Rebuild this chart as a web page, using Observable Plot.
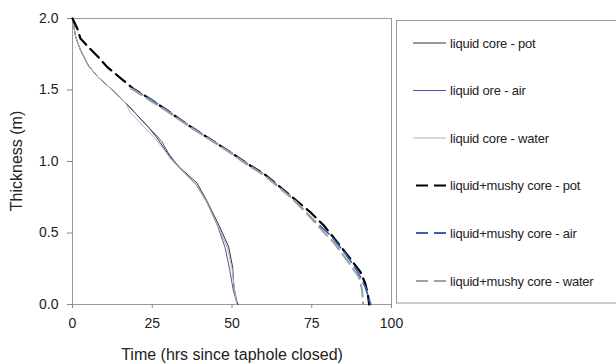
<!DOCTYPE html>
<html>
<head>
<meta charset="utf-8">
<script src="https://cdn.jsdelivr.net/npm/d3@7"></script>
<script src="https://cdn.jsdelivr.net/npm/@observablehq/plot@0.6"></script>
<style>
  html, body { margin: 0; padding: 0; background: #fff; }
  #chart { position: relative; width: 616px; height: 364px; }
</style>
</head>
<body>
<div id="chart"></div>
<script>
// ---- data (time in hrs, thickness in m) ----
const xTicks = [0, 25, 50, 75, 100];
const yTicks = [0, 0.5, 1.0, 1.5, 2.0];

const liquidPotT = [0, 1, 2.5, 5, 8, 12.5, 16.5, 20, 24, 26.5, 28.5, 31, 34, 36.5, 39, 42, 46, 49, 50.2, 50.6, 51.7];
const liquidPotH = [2.0, 1.87, 1.78, 1.67, 1.59, 1.50, 1.415, 1.33, 1.235, 1.165, 1.10, 1.02, 0.95, 0.90, 0.85, 0.73, 0.55, 0.40, 0.26, 0.12, 0.0];

const liquidAirT = [0, 1, 2.5, 5, 8, 12.5, 16.5, 20, 24, 26, 28, 30, 33.5, 36.5, 39, 42, 45.5, 47.8, 49.3, 50.4, 51.3, 52];
const liquidAirH = [2.0, 1.87, 1.78, 1.67, 1.59, 1.50, 1.415, 1.33, 1.235, 1.19, 1.14, 1.06, 0.955, 0.89, 0.83, 0.72, 0.55, 0.40, 0.24, 0.10, 0.03, 0.0];

const liquidWaterT = [0, 1, 2.5, 5, 8, 12.5, 16.5, 18.2, 20, 22.9, 25.5, 28.5, 31, 34, 36.5, 39, 42, 46, 48.5, 50, 50.8, 51.5];
const liquidWaterH = [2.0, 1.87, 1.78, 1.67, 1.59, 1.50, 1.415, 1.34, 1.30, 1.23, 1.17, 1.09, 1.01, 0.945, 0.89, 0.83, 0.72, 0.53, 0.40, 0.25, 0.10, 0.0];

const mushyPotT = [0, 1.5, 2.5, 5, 7.7, 10.9, 16, 19.1, 23.4, 29.7, 35.9, 42.2, 49.5, 54.8, 60, 65.2, 68.3, 74.6, 78.8, 83, 87.1, 90.3, 91.8, 92.6, 93];
const mushyPotH = [2.0, 1.93, 1.86, 1.80, 1.74, 1.66, 1.566, 1.508, 1.45, 1.357, 1.26, 1.17, 1.065, 0.984, 0.914, 0.82, 0.762, 0.645, 0.552, 0.436, 0.32, 0.226, 0.145, 0.07, 0.0];

const mushyAirT = [18.5, 23.4, 29.7, 35.9, 42.2, 49.5, 54.8, 60, 65.2, 68.3, 75.6, 80.9, 85.6, 89.2, 91.8, 93.5];
const mushyAirH = [1.51, 1.45, 1.357, 1.26, 1.17, 1.065, 0.984, 0.91, 0.815, 0.755, 0.59, 0.483, 0.354, 0.238, 0.121, 0.0];

const mushyWaterT = [18.5, 23.4, 29.7, 35.9, 42.2, 49.5, 54.8, 60, 65.2, 70, 74.6, 78.7, 81.8, 86.1, 89.8, 90.8, 91.1];
const mushyWaterH = [1.51, 1.44, 1.35, 1.255, 1.165, 1.06, 0.978, 0.905, 0.81, 0.72, 0.61, 0.506, 0.436, 0.308, 0.191, 0.098, 0.0];

const seriesNames = [
  "liquid core - pot",
  "liquid ore - air",
  "liquid core - water",
  "liquid+mushy core - pot",
  "liquid+mushy core - air",
  "liquid+mushy core - water"
];

// ---- styles ----
const styles = [
  {stroke: "#333333", width: 1, dash: null},
  {stroke: "#4a55a8", width: 1, dash: null},
  {stroke: "#b4b4b4", width: 1, dash: null},
  {stroke: "#000000", width: 2.2, dash: "12,6"},
  {stroke: "#3a5fb8", width: 1.8, dash: "12,6"},
  {stroke: "#a0a0a0", width: 2, dash: "12,6"}
];

const rawSeries = [
  [liquidPotT, liquidPotH],
  [liquidAirT, liquidAirH],
  [liquidWaterT, liquidWaterH],
  [mushyPotT, mushyPotH],
  [mushyAirT, mushyAirH],
  [mushyWaterT, mushyWaterH]
];
const tables = rawSeries.map(([ts, hs], i) => ts.map((t, j) => ({t, h: hs[j], s: seriesNames[i]})));

const font = "'Liberation Sans', Arial, sans-serif";

const chart = Plot.plot({
  width: 616,
  height: 364,
  marginLeft: 72,
  marginRight: 225,
  marginTop: 18,
  marginBottom: 60,
  style: {fontFamily: font, fontSize: "14px", color: "#222", background: "#fff"},
  x: {domain: [0, 100]},
  y: {domain: [0, 2]},
  marks: [
    Plot.frame({stroke: "#999"}),
    Plot.axisX({ticks: xTicks, tickSize: 4, tickPadding: 10, label: null, stroke: "#888", fontSize: 14}),
    Plot.axisY({ticks: yTicks, tickSize: 5, tickPadding: 9, label: null, stroke: "#888", tickFormat: d3.format(".1f"), fontSize: 14}),
    ...tables.map((data, i) => Plot.line(data, {
      x: "t", y: "h",
      stroke: styles[i].stroke,
      strokeWidth: styles[i].width,
      strokeDasharray: styles[i].dash,
      strokeLinejoin: "round"
    }))
  ]
});

document.getElementById("chart").appendChild(chart);

// axis titles and legend
const svg = d3.select(chart);
svg.append("text")
  .attr("x", 232).attr("y", 360)
  .attr("text-anchor", "middle")
  .attr("font-family", font).attr("font-size", 16).attr("fill", "#222")
  .text("Time (hrs since taphole closed)");
svg.append("text")
  .attr("transform", "translate(22,161) rotate(-90)")
  .attr("text-anchor", "middle")
  .attr("font-family", font).attr("font-size", 16).attr("fill", "#222")
  .text("Thickness (m)");

const lg = svg.append("g").attr("text-anchor", "start");
lg.append("rect")
  .attr("x", 396.5).attr("y", 20.5).attr("width", 230).attr("height", 282.5)
  .attr("fill", "none").attr("stroke", "#999");
const rowY = [43, 90.5, 138, 185.5, 233, 281];
seriesNames.forEach((name, i) => {
  lg.append("line")
    .attr("x1", styles[i].dash ? 416 : 413).attr("x2", styles[i].dash ? 447 : 446)
    .attr("y1", rowY[i]).attr("y2", rowY[i])
    .attr("stroke", styles[i].stroke)
    .attr("stroke-width", styles[i].width)
    .attr("stroke-dasharray", styles[i].dash);
  lg.append("text")
    .attr("x", 450).attr("y", rowY[i]).attr("dy", "0.35em")
    .attr("text-anchor", "start")
    .attr("font-family", font).attr("font-size", 13).attr("fill", "#222")
    .attr("letter-spacing", "-0.2")
    .text(name);
});
</script>
</body>
</html>
